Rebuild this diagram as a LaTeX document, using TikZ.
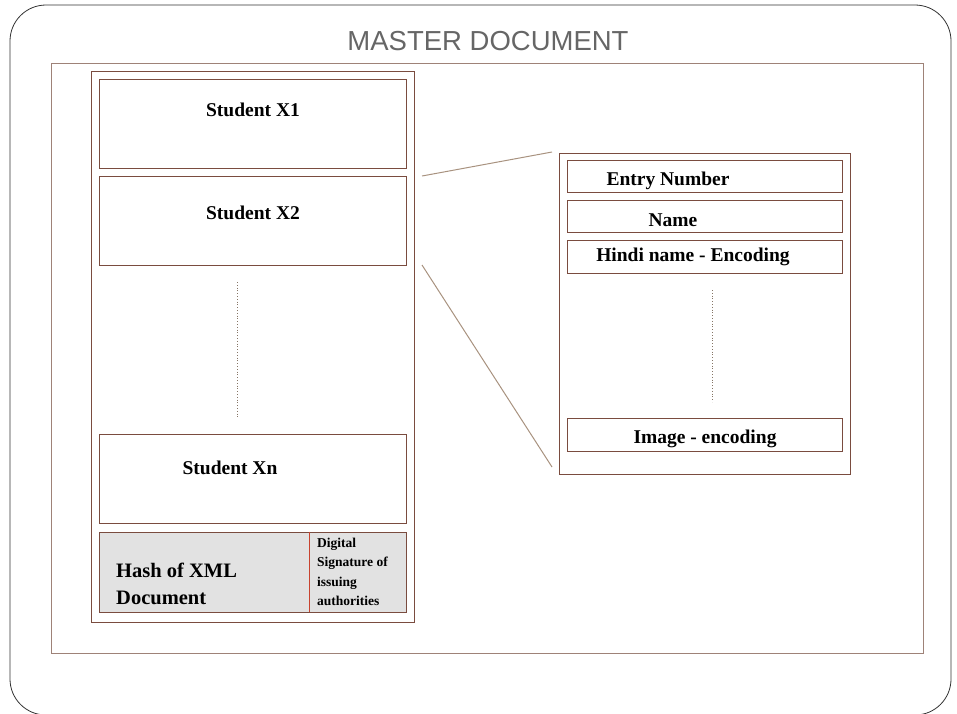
\documentclass[tikz,border=0pt]{standalone}
\usepackage{fontspec}
\setmainfont{Liberation Serif}
\newfontfamily\titlefont{Liberation Sans}
\usepackage{tikz}
\usetikzlibrary{positioning}

\definecolor{rimbrown}{HTML}{9E8278}
\definecolor{boxbrown}{HTML}{7A4C3F}
\definecolor{linkbrown}{HTML}{A8927F}
\definecolor{hashgray}{HTML}{E2E2E2}
\definecolor{sigred}{HTML}{C8432F}
\definecolor{titlegray}{HTML}{666666}

\tikzset{
  slot/.style={draw=boxbrown, line width=0.9pt, minimum width=307pt, minimum height=89pt, inner sep=0pt},
  field/.style={draw=boxbrown, line width=0.9pt, minimum width=275pt, minimum height=32pt, inner sep=0pt},
  caption/.style={font=\bfseries\fontsize{19.5}{22}\selectfont, inner sep=0pt},
  link/.style={draw=linkbrown, line width=1pt},
  dots/.style={draw=linkbrown!80!black, line width=0.8pt, dotted}
}

\begin{document}
\begin{tikzpicture}[x=1pt, y=-1pt]
\useasboundingbox (0,0) rectangle (957,713);
\clip (0,0) rectangle (957,713);
\draw [gray!40!black, line width=0.8pt, rounded corners=36pt] (10,5) rectangle (951,715);
\node [font=\titlefont\fontsize{27.5}{30}\selectfont, text=titlegray, inner sep=0pt] (title) at (488,41) {MASTER DOCUMENT};
\node [draw=rimbrown, line width=1pt, minimum width=872pt, minimum height=590pt, inner sep=0pt] (master) at (487,358) {};

% the document with all the students
\node [draw=boxbrown, line width=0.9pt, minimum width=323pt, minimum height=551pt, inner sep=0pt] (column) at (252.5,346.5) {};
\node [slot] (x1) at (252.5,123.5) {};
\node [slot] (x2) at (252.5,220.5) {};
\node [slot] (xn) at (252.5,478.5) {};
\node [caption] (x1text) at (253,110) {Student X1};
\node [caption] (x2text) at (253,213) {Student X2};
\node [caption] (xntext) at (230,468) {Student Xn};
\coordinate (gaptop) at (237,282);
\coordinate (gapbot) at (237,417);
\draw [dots] (gaptop) -- (gapbot);
\node [draw=boxbrown, fill=hashgray, line width=0.9pt, minimum width=210pt, minimum height=80pt, inner sep=0pt] (hash) at (204,572) {};
\node [draw=boxbrown, fill=hashgray, line width=0.9pt, minimum width=97pt, minimum height=80pt, inner sep=0pt, right=0pt of hash] (sig) {};
\draw [sigred, line width=1pt] (sig.north west) -- (sig.south west);
\node [font=\bfseries\fontsize{20.5}{27}\selectfont, align=left, anchor=west, inner sep=0pt] (hashtext) at (116,584) {Hash of XML\\Document};
\node [font=\bfseries\fontsize{13.5}{19.5}\selectfont, align=left, anchor=west, inner sep=0pt] (sigtext) at (317,572) {Digital\\Signature of\\issuing\\authorities};

% one student record
\node [draw=boxbrown, line width=0.9pt, minimum width=291pt, minimum height=321pt, inner sep=0pt] (record) at (704.5,313.5) {};
\node [field] (entry) at (704.5,176) {};
\node [field] (name) at (704.5,216) {};
\node [field, minimum height=33pt] (hindi) at (704.5,256.5) {};
\node [field, minimum height=33pt] (image) at (704.5,434.5) {};
\node [caption] (entrytext) at (668,181) {Entry Number};
\node [caption] (nametext) at (673,220) {Name};
\node [caption] (hinditext) at (693,257) {Hindi name - Encoding};
\node [caption] (imagetext) at (705,439) {Image - encoding};
\coordinate (fieldgaptop) at (712,290);
\coordinate (fieldgapbot) at (712,402);
\draw [dots] (fieldgaptop) -- (fieldgapbot);

% zoom lines
\coordinate (zoomfromhi) at (422,176);
\coordinate (zoomfromlo) at (422,265);
\coordinate (zoomtohi) at (552,152);
\coordinate (zoomtolo) at (552,467);
\draw [link] (zoomfromhi) -- (zoomtohi);
\draw [link] (zoomfromlo) -- (zoomtolo);
\end{tikzpicture}
\end{document}
